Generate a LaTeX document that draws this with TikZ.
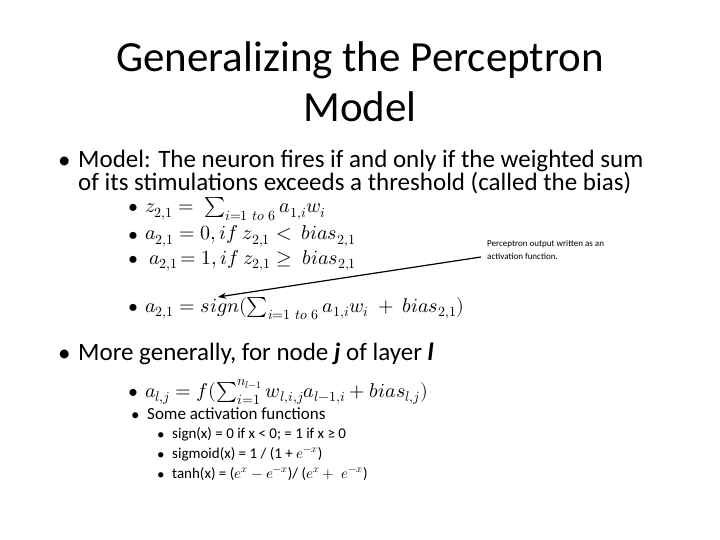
\documentclass[tikz,border=0pt]{standalone}
\usepackage{fontspec}
\usepackage{unicode-math}
\setmainfont{Carlito}
\setmathfont{Latin Modern Math}
\usetikzlibrary{arrows.meta}
\begin{document}
\begin{tikzpicture}[x=1pt,y=-1pt,
  ttl/.style={font=\fontsize{43}{50}\selectfont,align=center},
  lone/.style={anchor=base west,inner sep=0,font=\fontsize{25}{25}\selectfont},
  ltwo/.style={anchor=base west,inner sep=0,font=\fontsize{20}{20}\selectfont},
  lthree/.style={anchor=base west,inner sep=0,font=\fontsize{17}{17}\selectfont},
  lfour/.style={anchor=base west,inner sep=0,font=\fontsize{15}{15}\selectfont},
  note/.style={anchor=base west,inner sep=0,font=\fontsize{9}{9}\selectfont}]
\useasboundingbox (0,0) rectangle (720,540);
\node[ttl] (title) at (360,82) {Generalizing the Perceptron\\Model};
\node[lone] (b1) at (58,169) {•};
\node[lone] (t1a) at (78,168) {Model: The neuron fires if and only if the weighted sum};
\node[lone] (t1b) at (78,191) {of its stimulations exceeds a threshold (called the bias)};
\node[ltwo] (b2) at (128,214) {•};
\node[ltwo] (m1) at (145,213) {$z_{2,1} =\ \sum_{i=1\ to\ 6} a_{1,i}w_i$};
\node[ltwo] (b3) at (128,241) {•};
\node[ltwo] (m2) at (145,240) {$a_{2,1} = 0, if\ z_{2,1} <\ bias_{2,1}$};
\node[ltwo] (b4) at (128,265) {•};
\node[ltwo] (m3) at (149,264) {$a_{2,1}\!= 1, if\ z_{2,1} \geq\ bias_{2,1}$};
\node[ltwo] (b5) at (128,313) {•};
\node[ltwo] (m4) at (145,312) {$a_{2,1} = sign(\sum_{i=1\ to\ 6} a_{1,i}w_i\ +\ bias_{2,1})$};
\node[lone] (b6) at (58,361) {•};
\node[lone] (t2) at (78,360) {More generally, for node \textbf{\textit{j}} of layer \textbf{\textit{l}}};
\node[ltwo] (b7) at (128,398) {•};
\node[ltwo] (m5) at (145,397) {$a_{l,j} = f(\sum_{i=1}^{n_{l-1}} w_{l,i,j}a_{l-1,i} + bias_{l,j})$};
\node[lthree] (b8) at (131,420) {•};
\node[lthree] (t3) at (147,419) {Some activation functions};
\node[lfour] (b9) at (157,439) {•};
\node[lfour] (t4) at (172,438) {sign(x) = 0 if x < 0; = 1 if x ≥ 0};
\node[lfour] (b10) at (157,459) {•};
\node[lfour] (t5) at (172,458) {sigmoid(x) = 1 / (1 + $e^{-x}$)};
\node[lfour] (b11) at (157,479) {•};
\node[lfour] (t6) at (172,478) {tanh(x) = ($e^x - e^{-x}$)/ ($e^x +\ e^{-x}$)};
\node[note] (n1) at (487,246) {Perceptron output written as an};
\node[note] (n2) at (487,259) {activation function.};
\coordinate (s) at (481,257);
\coordinate (e) at (218,297);
\draw[line width=1.2pt,-{Stealth[length=8pt,width=6pt]}] (s) -- (e);
\end{tikzpicture}
\end{document}
